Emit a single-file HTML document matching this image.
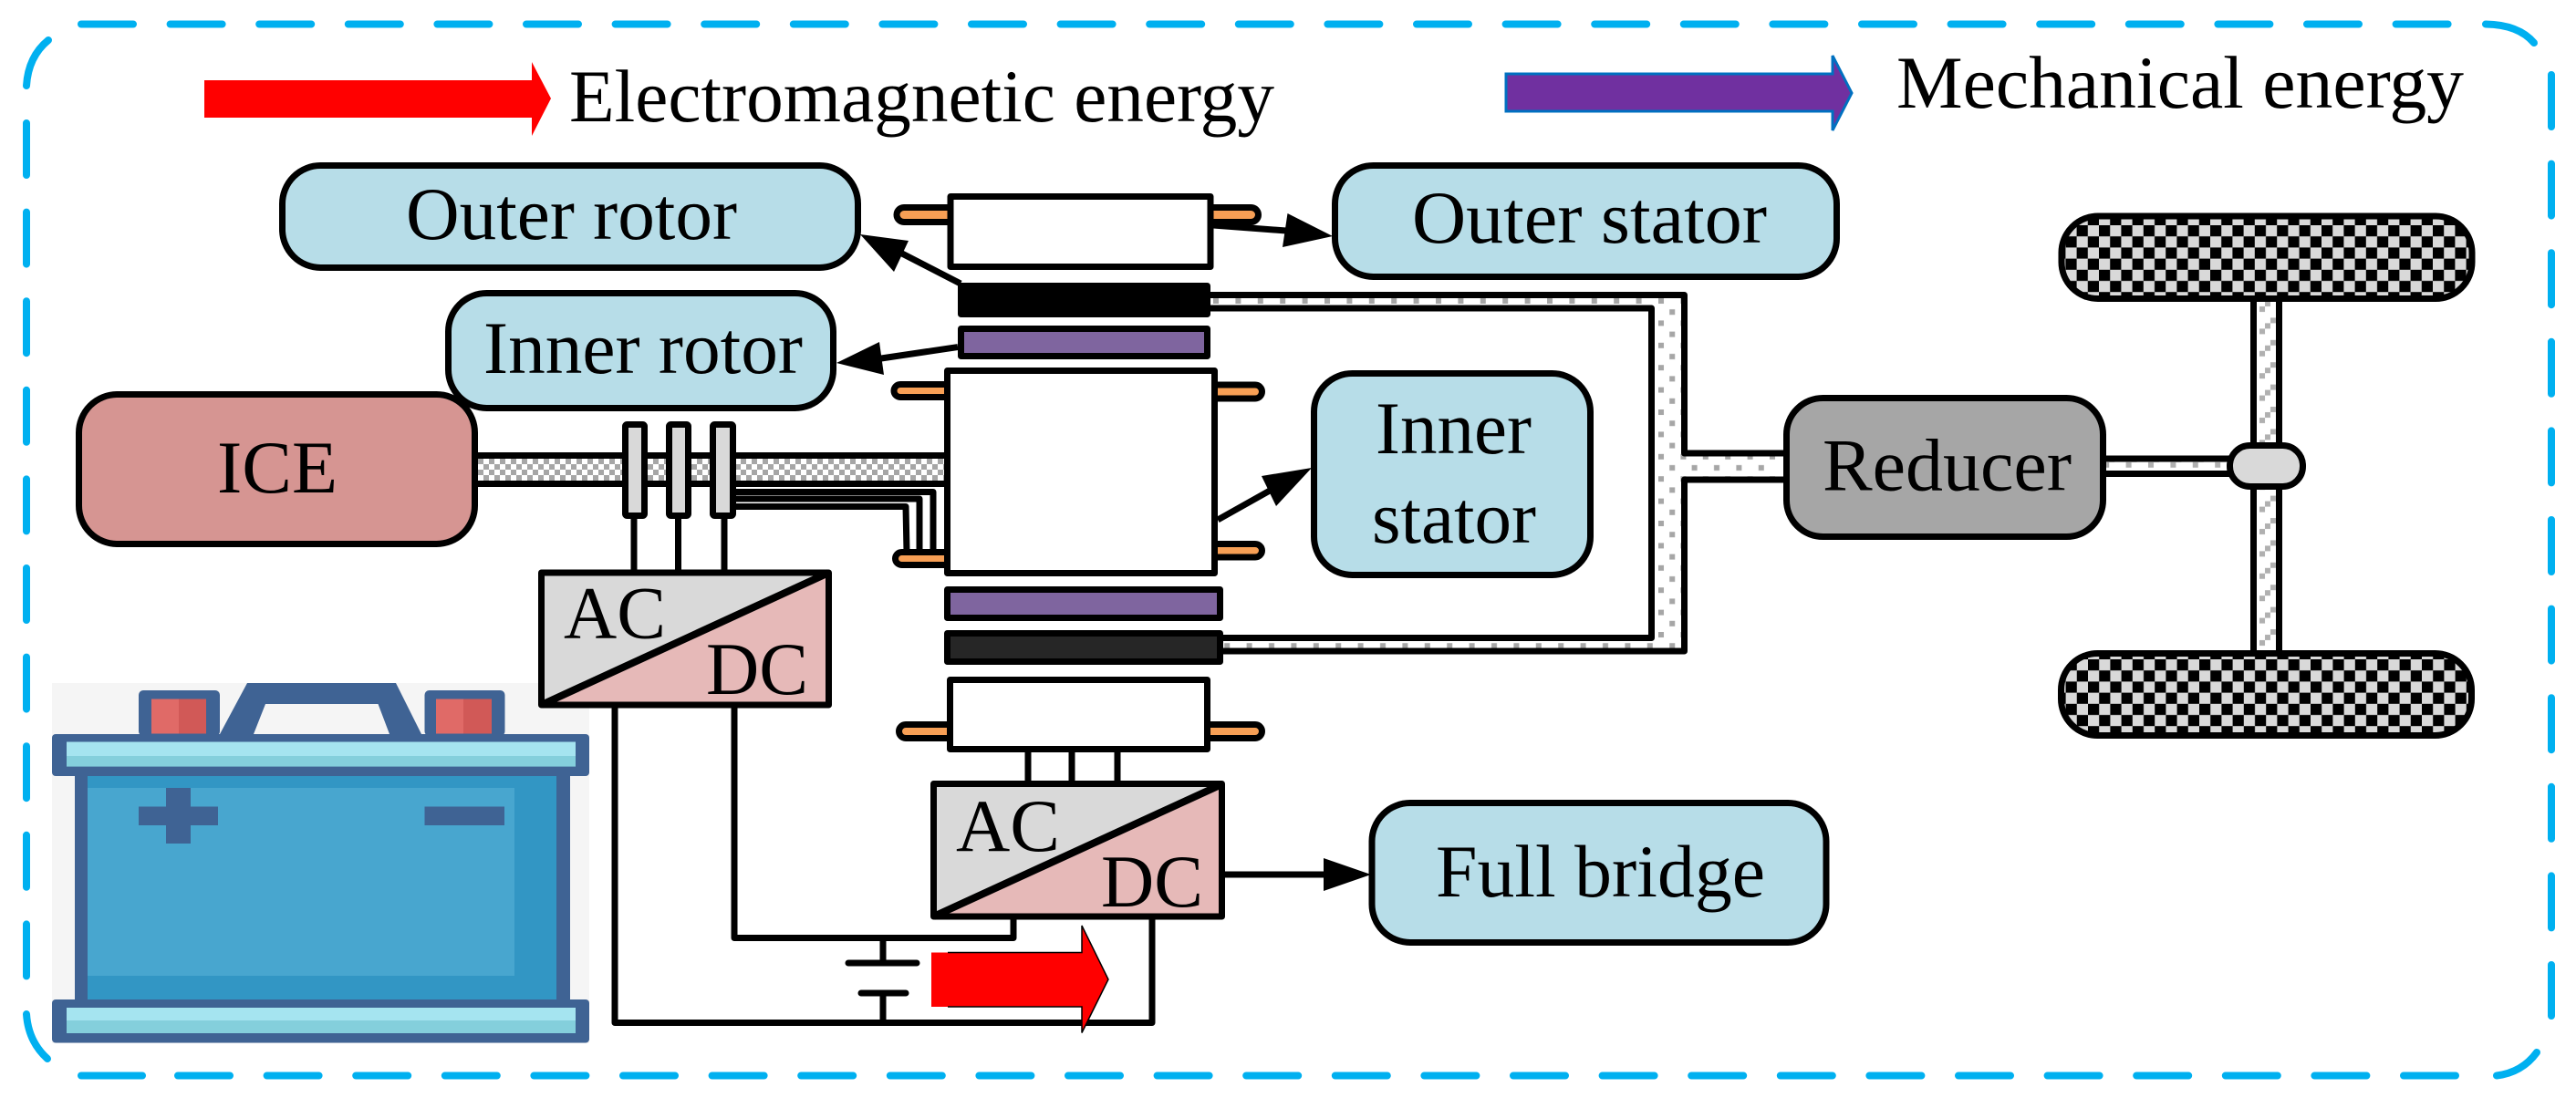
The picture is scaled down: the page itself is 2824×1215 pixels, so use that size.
<!DOCTYPE html>
<html><head><meta charset="utf-8"><title>Power split hybrid diagram</title>
<style>
html,body{margin:0;padding:0;background:#fff}
svg{display:block}
text{font-family:"Liberation Serif",serif;font-size:82px;fill:#000}
.b{stroke:#000;stroke-width:7;stroke-linejoin:round}
.l{stroke:#000;stroke-width:7;fill:none;stroke-linejoin:round;stroke-linecap:square}
.t{fill:#F79F55;stroke:#000;stroke-width:7}
.d{fill:none;stroke:#00B0F0;stroke-width:8;stroke-linecap:round}
.dd{stroke-dasharray:57 40.6}
</style></head>
<body>
<svg xmlns="http://www.w3.org/2000/svg" width="2824" height="1215" viewBox="0 0 2824 1215">
<defs>
<pattern id="chk" patternUnits="userSpaceOnUse" x="524" y="503" width="12" height="12">
<rect width="12" height="12" fill="#fff"/><rect width="6" height="6" fill="#A6A6A6"/><rect x="6" y="6" width="6" height="6" fill="#A6A6A6"/>
</pattern>
<pattern id="dot" patternUnits="userSpaceOnUse" x="1818" y="449" width="24.4" height="24.4">
<rect width="24.4" height="24.4" fill="#fff"/><rect width="6" height="6" fill="#A6A6A6"/><rect x="12.2" y="12.2" width="6" height="6" fill="#A6A6A6"/>
</pattern>
<pattern id="dia" patternUnits="userSpaceOnUse" x="2475" y="440" width="24.4" height="24.4">
<rect width="24.4" height="24.4" fill="#fff"/>
<rect x="2" y="18" width="6" height="6" fill="#B0B0B0"/><rect x="8" y="12" width="6" height="6" fill="#B0B0B0"/><rect x="14" y="6" width="6" height="6" fill="#B0B0B0"/>
</pattern>
<pattern id="w1" patternUnits="userSpaceOnUse" x="2301" y="247" width="24.4" height="24.4">
<rect width="24.4" height="24.4" fill="#D9D9D9"/><rect width="12.2" height="12.2"/><rect x="12.2" y="12.2" width="12.2" height="12.2"/>
</pattern>
<pattern id="w2" patternUnits="userSpaceOnUse" x="2289" y="723" width="24.4" height="24.4">
<rect width="24.4" height="24.4" fill="#D9D9D9"/><rect width="12.2" height="12.2"/><rect x="12.2" y="12.2" width="12.2" height="12.2"/>
</pattern>
</defs>

<!-- dashed border -->
<path class="d dd" d="M89,26.5H2700"/>
<path class="d" d="M2725,26.5Q2761,27 2778,47"/>
<path class="d dd" d="M2797,82V1114"/>
<path class="d" d="M2781,1154Q2765,1176 2737,1179.5"/>
<path class="d dd" d="M195,1179.5H2694"/>
<path class="d" d="M89,1179.5H156"/>
<path class="d" d="M52,1161Q31,1142 29,1112"/>
<path class="d dd" d="M29,135V1071"/>
<path class="d" d="M29,94Q31,62 53,44"/>

<!-- legend -->
<polygon points="224,88 583,88 583,68 604,108 583,149 583,129 224,129" fill="#f00"/>
<text x="624" y="133" textLength="773" lengthAdjust="spacingAndGlyphs">Electromagnetic energy</text>
<polygon points="1651,81 2009,81 2009,61 2030,102 2009,143 2009,122 1651,122" fill="#7030A0" stroke="#0070C0" stroke-width="3"/>
<text x="2079" y="118" textLength="622" lengthAdjust="spacingAndGlyphs">Mechanical energy</text>

<!-- battery icon -->
<rect x="57" y="749" width="589" height="395" fill="#F5F5F5"/>
<rect x="152" y="757" width="89" height="50" rx="5" fill="#3F6394"/>
<rect x="465.5" y="757" width="88" height="50" rx="5" fill="#3F6394"/>
<rect x="166" y="766.5" width="30" height="38" fill="#E06A67"/><rect x="196" y="766.5" width="30" height="38" fill="#D15957"/>
<rect x="478" y="766.5" width="30" height="38" fill="#E06A67"/><rect x="508" y="766.5" width="31" height="38" fill="#D15957"/>
<polygon points="241,805 271,749 434,749 462,805 427,805 414.5,772 291,772 278,805" fill="#3F6394"/>
<rect x="82" y="851" width="543" height="245" fill="#3F6394"/>
<rect x="96" y="851" width="514" height="245" fill="#3296C4"/>
<rect x="96" y="864" width="468" height="206" fill="#48A6CF"/>
<rect x="152" y="884.5" width="87" height="20.5" fill="#3F6394"/><rect x="182" y="864" width="27" height="61" fill="#3F6394"/>
<rect x="465.5" y="884.5" width="87.5" height="20.5" fill="#3F6394"/>
<rect x="57" y="805" width="589" height="46" rx="4" fill="#3F6394"/>
<rect x="73" y="813.5" width="558" height="15.5" fill="#A5E4F0"/><rect x="73" y="829" width="558" height="11.6" fill="#84CFDC"/>
<rect x="57" y="1096" width="589" height="47.5" rx="4" fill="#3F6394"/>
<rect x="73" y="1105" width="558" height="14" fill="#A5E4F0"/><rect x="73" y="1119" width="558" height="14" fill="#84CFDC"/>

<!-- ICE & shaft -->
<rect x="524" y="499.5" width="513" height="31" fill="url(#chk)"/>
<path class="l" style="stroke-linecap:butt" d="M524,499.5H1037M524,530.5H1037"/>
<rect class="b" x="86.5" y="432.5" width="434" height="164" rx="42" fill="#D69592"/>
<text x="238" y="540" textLength="132" lengthAdjust="spacingAndGlyphs">ICE</text>

<!-- rotor boxes -->
<rect class="b" x="309.5" y="181.5" width="631" height="112" rx="42" fill="#B7DDE8"/>
<text x="445" y="262" textLength="363" lengthAdjust="spacingAndGlyphs">Outer rotor</text>
<rect class="b" x="491.5" y="321.5" width="422" height="126" rx="42" fill="#B7DDE8"/>
<text x="530" y="409" textLength="350" lengthAdjust="spacingAndGlyphs">Inner rotor</text>

<!-- wires from clutches -->
<path class="l" style="stroke-linecap:butt" d="M695,565V626M743.5,565V626M794,565V626"/>
<path class="l" d="M805,539.5H1023V605M805,547H1008V605M805,555.5H993L994,605" style="stroke-linecap:butt"/>

<!-- clutches -->
<rect class="b" x="685.5" y="465.5" width="21" height="100" rx="2" fill="#D9D9D9"/>
<rect class="b" x="733.5" y="465.5" width="21" height="100" rx="2" fill="#D9D9D9"/>
<rect class="b" x="781.5" y="465.5" width="22" height="100" rx="2" fill="#D9D9D9"/>

<!-- mechanical dotted path -->
<path d="M1327,323.5H1846V497H1951V526H1846V714H1341V699H1810.5V338H1327Z" fill="url(#dot)"/>
<path class="l" style="stroke-linecap:butt" d="M1327,323.5H1846.5V497H1958M1958,526H1846.5V714H1341M1341,699.5H1810.5V338H1327"/>

<!-- outer stator top -->
<rect class="t" x="983" y="227.5" width="70" height="16" rx="8"/>
<rect class="t" x="1315" y="227.5" width="64.5" height="16" rx="8"/>
<rect x="1042" y="215.5" width="285" height="77" fill="#fff" class="b"/>
<!-- black + purple bars -->
<rect class="b" x="1053.5" y="313.5" width="270" height="31" fill="#000"/>
<rect class="b" x="1053.5" y="360.5" width="270" height="30" fill="#7F659F"/>
<!-- inner stator -->
<rect class="t" x="980" y="421.5" width="70" height="14" rx="7"/>
<rect class="t" x="981.5" y="605.5" width="70" height="14" rx="7"/>
<rect class="t" x="1320" y="422" width="63.5" height="15" rx="7.5"/>
<rect class="t" x="1320" y="596.5" width="63.5" height="14.5" rx="7.5"/>
<rect class="b" x="1038.5" y="406.5" width="293" height="222" fill="#fff"/>
<!-- lower bars -->
<rect class="b" x="1038.5" y="646.5" width="299" height="31" fill="#7F659F"/>
<rect class="b" x="1038.5" y="694.5" width="299" height="31" fill="#262626"/>
<!-- outer stator bottom -->
<rect class="t" x="985.5" y="794.5" width="70" height="15" rx="7.5"/>
<rect class="t" x="1310" y="794.5" width="73.5" height="15" rx="7.5"/>
<path class="l" style="stroke-linecap:butt" d="M1127,820V858M1175,820V858M1225,820V858"/>
<rect class="b" x="1041.5" y="745.5" width="282" height="76" fill="#fff"/>

<!-- outer stator box -->
<rect class="b" x="1463.5" y="181.5" width="550" height="122" rx="42" fill="#B7DDE8"/>
<text x="1548" y="266" textLength="389" lengthAdjust="spacingAndGlyphs">Outer stator</text>
<!-- inner stator box -->
<rect class="b" x="1440.5" y="409.5" width="303" height="221" rx="42" fill="#B7DDE8"/>
<text x="1508" y="497" textLength="171" lengthAdjust="spacingAndGlyphs">Inner</text>
<text x="1504" y="595" textLength="180" lengthAdjust="spacingAndGlyphs">stator</text>

<!-- arrows -->
<path d="M1053,311L985,276" class="l" style="stroke-linecap:butt"/>
<polygon points="943,257 996,264 980,298"/>
<path d="M1050,380.6L966,393" class="l" style="stroke-linecap:butt"/>
<polygon points="917,398 964,375 969,411"/>
<path d="M1330,247L1410,253" class="l" style="stroke-linecap:butt"/>
<polygon points="1461,259 1411.5,234 1406,271"/>
<path d="M1335,570L1392,538" class="l" style="stroke-linecap:butt"/>
<polygon points="1438,513 1383,522 1399,555"/>

<!-- reducer -->
<rect x="2309" y="503" width="135" height="16" fill="url(#dia)"/>
<path class="l" style="stroke-linecap:butt" d="M2305,503H2445M2305,519.5H2445"/>
<rect class="b" x="1958.5" y="436.5" width="347" height="152" rx="40" fill="#A6A6A6"/>
<text x="1998" y="537.5" textLength="273" lengthAdjust="spacingAndGlyphs">Reducer</text>

<!-- vehicle axle -->
<rect x="2474" y="330" width="21" height="384" fill="url(#dia)"/>
<path class="l" style="stroke-linecap:butt" d="M2470.5,330V714M2498.5,330V714"/>
<rect class="b" x="2444.5" y="488.5" width="80" height="45" rx="22" fill="#D9D9D9"/>
<rect class="b" x="2260" y="237" width="450" height="90.5" rx="40" fill="url(#w1)"/>
<rect class="b" x="2259.5" y="716.5" width="450" height="90" rx="40" fill="url(#w2)"/>

<!-- AC/DC 1 -->
<path class="l" style="stroke-linecap:butt" d="M674,776V1121.5H1263V1006M805,776V1028.5H1111V1006"/>
<rect x="593.5" y="628" width="315" height="145" fill="#D9D9D9"/>
<polygon points="593.5,773 908.5,628 908.5,773" fill="#E6B9B8"/>
<line x1="593.5" y1="773" x2="908.5" y2="628" stroke="#000" stroke-width="8"/>
<rect class="b" x="593.5" y="628" width="315" height="145" fill="none"/>
<text x="618" y="699.5" textLength="112" lengthAdjust="spacingAndGlyphs">AC</text>
<text x="774" y="761" textLength="112" lengthAdjust="spacingAndGlyphs">DC</text>

<!-- AC/DC 2 -->
<rect x="1023.5" y="860" width="316" height="145" fill="#D9D9D9"/>
<polygon points="1023.5,1005 1339.5,860 1339.5,1005" fill="#E6B9B8"/>
<line x1="1023.5" y1="1005" x2="1339.5" y2="860" stroke="#000" stroke-width="8"/>
<rect class="b" x="1023.5" y="859.5" width="316" height="145.5" fill="none"/>
<text x="1048" y="933" textLength="114" lengthAdjust="spacingAndGlyphs">AC</text>
<text x="1207" y="994" textLength="112" lengthAdjust="spacingAndGlyphs">DC</text>

<!-- full bridge -->
<path class="l" style="stroke-linecap:butt" d="M1343,959H1455"/>
<polygon points="1503,959 1451,941 1451,977"/>
<rect class="b" x="1504" y="880.5" width="498" height="153" rx="42" fill="#B7DDE8"/>
<text x="1574" y="983" textLength="361" lengthAdjust="spacingAndGlyphs">Full bridge</text>

<!-- battery symbol -->
<path class="l" style="stroke-linecap:butt" d="M968,1028V1056M968,1089V1121"/>
<path class="l" style="stroke-linecap:round" d="M930,1056H1005M944,1089H993"/>

<!-- red arrow -->
<polygon points="1021,1044.5 1186,1044.5 1186,1015 1215,1074 1186,1132.5 1186,1104 1021,1104" fill="#f00"/>
<polyline points="1039,1044.5 1186,1044.5 1186,1015 1215,1074 1186,1132.5 1186,1104 1039,1104" fill="none" stroke="#000" stroke-width="1.5"/>
</svg>
</body></html>
